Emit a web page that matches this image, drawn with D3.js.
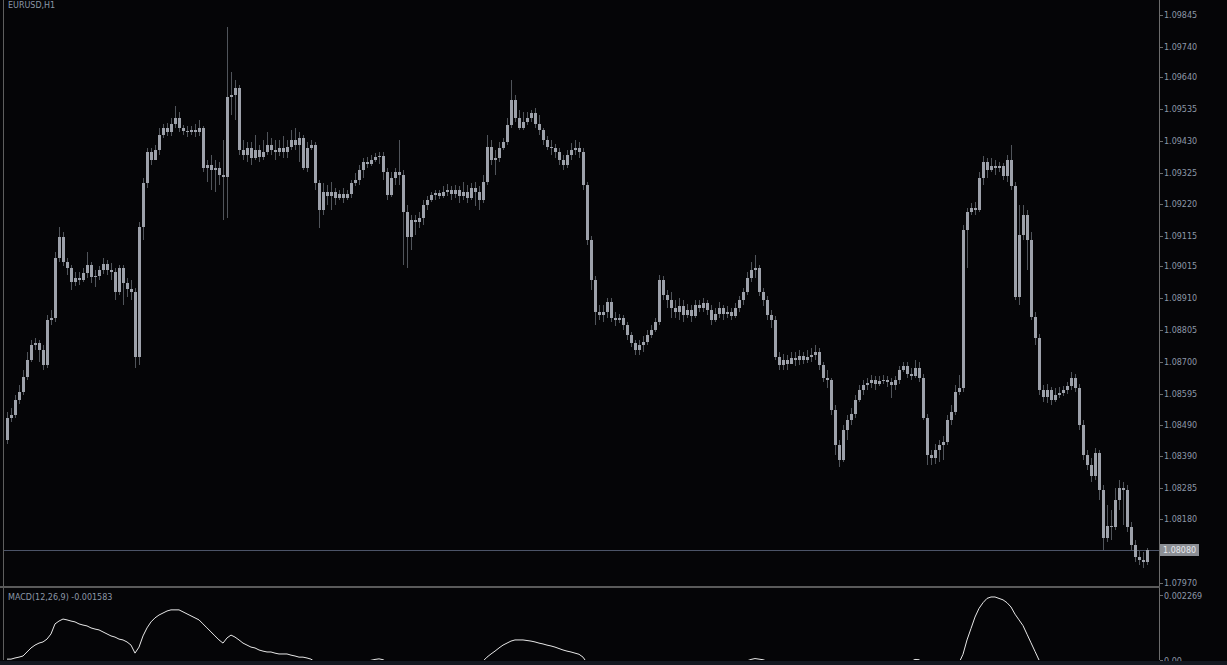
<!DOCTYPE html>
<html><head><meta charset="utf-8">
<script src="https://cdn.jsdelivr.net/npm/d3@7"></script>
<style>html,body{margin:0;padding:0;background:#050507;overflow:hidden}</style>
</head><body>
<script>
const symbolLabel = "EURUSD,H1";
const macdLabel = "MACD(12,26,9) -0.001583";
const priceTicks = [1.09845,1.09740,1.09640,1.09535,1.09430,1.09325,1.09220,1.09115,1.09015,1.08910,1.08805,1.08700,1.08595,1.08490,1.08390,1.08285,1.08180,1.07970];
const macdTicks = [0.002269, 0];
const macdTickLabels = ["0.002269", "0.00"];
const currentPrice = 1.08080;

const closes = [1.08516,1.08525,1.08575,1.08601,1.08651,1.08707,1.08756,1.08763,1.08740,1.08690,
1.08839,1.08846,1.09044,1.09113,1.09030,1.09011,1.08964,1.08978,1.08971,1.08994,
1.09020,1.08981,1.08984,1.09004,1.09024,1.09004,1.08997,1.08931,1.09011,1.08961,
1.08941,1.08931,1.08717,1.09146,1.09291,1.09393,1.09367,1.09400,1.09450,1.09473,
1.09459,1.09486,1.09506,1.09473,1.09463,1.09459,1.09466,1.09459,1.09473,1.09341,
1.09350,1.09334,1.09341,1.09317,1.09311,1.09575,1.09581,1.09605,1.09400,1.09383,
1.09407,1.09374,1.09400,1.09377,1.09393,1.09417,1.09400,1.09393,1.09407,1.09393,
1.09410,1.09433,1.09417,1.09440,1.09341,1.09407,1.09417,1.09291,1.09202,1.09261,
1.09248,1.09261,1.09242,1.09255,1.09242,1.09255,1.09291,1.09301,1.09334,1.09360,
1.09354,1.09367,1.09377,1.09380,1.09327,1.09252,1.09308,1.09327,1.09317,1.09195,
1.09113,1.09169,1.09162,1.09176,1.09218,1.09235,1.09252,1.09258,1.09248,1.09261,
1.09268,1.09255,1.09268,1.09248,1.09261,1.09242,1.09275,1.09261,1.09235,1.09294,
1.09410,1.09367,1.09374,1.09407,1.09426,1.09482,1.09565,1.09506,1.09473,1.09492,
1.09506,1.09522,1.09486,1.09466,1.09433,1.09410,1.09407,1.09393,1.09367,1.09350,
1.09383,1.09400,1.09407,1.09393,1.09284,1.09103,1.08971,1.08865,1.08855,1.08865,
1.08898,1.08846,1.08839,1.08846,1.08822,1.08789,1.08763,1.08740,1.08756,1.08766,
1.08789,1.08806,1.08832,1.08971,1.08921,1.08905,1.08879,1.08865,1.08885,1.08855,
1.08872,1.08852,1.08888,1.08879,1.08895,1.08872,1.08839,1.08859,1.08879,1.08859,
1.08865,1.08852,1.08879,1.08905,1.08931,1.08978,1.09004,1.09011,1.08931,1.08905,
1.08855,1.08839,1.08717,1.08690,1.08707,1.08694,1.08714,1.08707,1.08720,1.08707,
1.08717,1.08723,1.08733,1.08690,1.08648,1.08641,1.08542,1.08426,1.08377,1.08476,
1.08509,1.08529,1.08575,1.08608,1.08624,1.08631,1.08641,1.08628,1.08638,1.08641,
1.08634,1.08624,1.08641,1.08674,1.08687,1.08661,1.08654,1.08681,1.08648,1.08516,
1.08393,1.08384,1.08410,1.08426,1.08436,1.08509,1.08535,1.08601,1.08615,1.09136,
1.09195,1.09209,1.09202,1.09308,1.09360,1.09334,1.09347,1.09341,1.09347,1.09314,
1.09367,1.09281,1.08915,1.09119,1.09185,1.09103,1.08849,1.08780,1.08608,1.08585,
1.08608,1.08575,1.08591,1.08598,1.08608,1.08621,1.08648,1.08615,1.08492,1.08393,
1.08360,1.08324,1.08400,1.08278,1.08119,1.08159,1.08156,1.08245,1.08284,1.08278,
1.08156,1.08096,1.08057,1.08047,1.08040,1.08080];

const opens = [1.08443,1.08516,1.08525,1.08575,1.08601,1.08651,1.08707,1.08756,1.08763,1.08740,
1.08690,1.08839,1.08846,1.09044,1.09113,1.09030,1.09011,1.08964,1.08978,1.08971,
1.08994,1.09020,1.08981,1.08984,1.09004,1.09024,1.09004,1.08997,1.08931,1.09011,
1.08961,1.08941,1.08931,1.08717,1.09146,1.09291,1.09393,1.09367,1.09400,1.09450,
1.09473,1.09459,1.09486,1.09506,1.09473,1.09463,1.09459,1.09466,1.09459,1.09473,
1.09341,1.09350,1.09334,1.09341,1.09317,1.09311,1.09575,1.09581,1.09605,1.09400,
1.09383,1.09407,1.09374,1.09400,1.09377,1.09393,1.09417,1.09400,1.09393,1.09407,
1.09393,1.09410,1.09433,1.09417,1.09440,1.09341,1.09407,1.09417,1.09291,1.09202,
1.09261,1.09248,1.09261,1.09242,1.09255,1.09242,1.09255,1.09291,1.09301,1.09334,
1.09360,1.09354,1.09367,1.09377,1.09380,1.09327,1.09252,1.09308,1.09327,1.09317,
1.09195,1.09113,1.09169,1.09162,1.09176,1.09218,1.09235,1.09252,1.09258,1.09248,
1.09261,1.09268,1.09255,1.09268,1.09248,1.09261,1.09242,1.09275,1.09261,1.09235,
1.09294,1.09410,1.09367,1.09374,1.09407,1.09426,1.09482,1.09565,1.09506,1.09473,
1.09492,1.09506,1.09522,1.09486,1.09466,1.09433,1.09410,1.09407,1.09393,1.09367,
1.09350,1.09383,1.09400,1.09407,1.09393,1.09284,1.09103,1.08971,1.08865,1.08855,
1.08865,1.08898,1.08846,1.08839,1.08846,1.08822,1.08789,1.08763,1.08740,1.08756,
1.08766,1.08789,1.08806,1.08832,1.08971,1.08921,1.08905,1.08879,1.08865,1.08885,
1.08855,1.08872,1.08852,1.08888,1.08879,1.08895,1.08872,1.08839,1.08859,1.08879,
1.08859,1.08865,1.08852,1.08879,1.08905,1.08931,1.08978,1.09004,1.09011,1.08931,
1.08905,1.08855,1.08839,1.08717,1.08690,1.08707,1.08694,1.08714,1.08707,1.08720,
1.08707,1.08717,1.08723,1.08733,1.08690,1.08648,1.08641,1.08542,1.08426,1.08377,
1.08476,1.08509,1.08529,1.08575,1.08608,1.08624,1.08631,1.08641,1.08628,1.08638,
1.08641,1.08634,1.08624,1.08641,1.08674,1.08687,1.08661,1.08654,1.08681,1.08648,
1.08516,1.08393,1.08384,1.08410,1.08426,1.08436,1.08509,1.08535,1.08601,1.08615,
1.09136,1.09195,1.09209,1.09202,1.09308,1.09360,1.09334,1.09347,1.09341,1.09347,
1.09314,1.09367,1.09281,1.08915,1.09119,1.09185,1.09103,1.08849,1.08780,1.08608,
1.08585,1.08608,1.08575,1.08591,1.08598,1.08608,1.08621,1.08648,1.08615,1.08492,
1.08393,1.08360,1.08324,1.08400,1.08278,1.08119,1.08159,1.08156,1.08245,1.08284,
1.08278,1.08156,1.08096,1.08057,1.08047,1.08040];

const highs = [1.08535,1.08549,1.08591,1.08624,1.08674,1.08733,1.08773,1.08780,1.08773,1.08756,
1.08855,1.08872,1.09063,1.09146,1.09129,1.09044,1.09020,1.08997,1.08997,1.09011,
1.09063,1.09030,1.09004,1.09017,1.09044,1.09037,1.09027,1.09011,1.09020,1.09020,
1.08978,1.08971,1.08945,1.09162,1.09308,1.09407,1.09407,1.09417,1.09473,1.09486,
1.09489,1.09506,1.09545,1.09525,1.09482,1.09479,1.09479,1.09486,1.09499,1.09479,
1.09367,1.09383,1.09367,1.09360,1.09433,1.09806,1.09657,1.09631,1.09614,1.09433,
1.09426,1.09426,1.09450,1.09417,1.09433,1.09459,1.09440,1.09433,1.09433,1.09446,
1.09433,1.09466,1.09473,1.09459,1.09450,1.09426,1.09433,1.09426,1.09301,1.09291,
1.09284,1.09294,1.09275,1.09268,1.09275,1.09268,1.09301,1.09324,1.09350,1.09374,
1.09377,1.09383,1.09390,1.09393,1.09393,1.09341,1.09327,1.09341,1.09433,1.09334,
1.09218,1.09185,1.09185,1.09195,1.09235,1.09248,1.09261,1.09268,1.09268,1.09281,
1.09288,1.09281,1.09284,1.09281,1.09294,1.09284,1.09291,1.09294,1.09281,1.09317,
1.09450,1.09433,1.09400,1.09426,1.09440,1.09506,1.09631,1.09581,1.09532,1.09525,
1.09525,1.09532,1.09539,1.09515,1.09473,1.09446,1.09433,1.09420,1.09407,1.09383,
1.09400,1.09423,1.09433,1.09426,1.09407,1.09294,1.09116,1.08984,1.08888,1.08888,
1.08911,1.08911,1.08865,1.08859,1.08855,1.08832,1.08799,1.08773,1.08773,1.08786,
1.08806,1.08822,1.08846,1.08987,1.08984,1.08938,1.08931,1.08905,1.08911,1.08905,
1.08892,1.08888,1.08905,1.08905,1.08911,1.08905,1.08888,1.08879,1.08898,1.08888,
1.08885,1.08879,1.08895,1.08918,1.08945,1.08997,1.09030,1.09053,1.09020,1.08945,
1.08918,1.08872,1.08852,1.08733,1.08727,1.08723,1.08733,1.08733,1.08740,1.08733,
1.08740,1.08746,1.08756,1.08746,1.08700,1.08674,1.08648,1.08558,1.08443,1.08492,
1.08525,1.08549,1.08591,1.08624,1.08641,1.08648,1.08657,1.08654,1.08654,1.08657,
1.08654,1.08648,1.08654,1.08687,1.08700,1.08700,1.08681,1.08707,1.08700,1.08661,
1.08529,1.08410,1.08430,1.08443,1.08456,1.08525,1.08558,1.08624,1.08657,1.09152,
1.09209,1.09225,1.09228,1.09327,1.09380,1.09374,1.09374,1.09367,1.09360,1.09357,
1.09383,1.09417,1.09294,1.09218,1.09218,1.09202,1.09129,1.08865,1.08793,1.08624,
1.08628,1.08618,1.08615,1.08618,1.08621,1.08634,1.08667,1.08661,1.08628,1.08509,
1.08410,1.08384,1.08417,1.08410,1.08294,1.08228,1.08212,1.08284,1.08311,1.08304,
1.08294,1.08172,1.08113,1.08080,1.08073,1.08086];

const lows = [1.08430,1.08502,1.08516,1.08562,1.08591,1.08641,1.08700,1.08740,1.08700,1.08674,
1.08681,1.08822,1.08832,1.09030,1.09017,1.08987,1.08938,1.08951,1.08954,1.08964,
1.08978,1.08961,1.08948,1.08971,1.08991,1.08987,1.08971,1.08905,1.08921,1.08888,
1.08915,1.08905,1.08681,1.08690,1.09103,1.09275,1.09350,1.09374,1.09383,1.09440,
1.09446,1.09446,1.09473,1.09459,1.09450,1.09443,1.09450,1.09443,1.09446,1.09327,
1.09294,1.09268,1.09261,1.09284,1.09169,1.09176,1.09515,1.09499,1.09383,1.09367,
1.09360,1.09350,1.09367,1.09360,1.09367,1.09383,1.09383,1.09367,1.09380,1.09374,
1.09374,1.09400,1.09400,1.09360,1.09334,1.09327,1.09400,1.09268,1.09143,1.09185,
1.09218,1.09202,1.09218,1.09235,1.09225,1.09235,1.09242,1.09281,1.09284,1.09308,
1.09341,1.09347,1.09360,1.09354,1.09301,1.09235,1.09245,1.09284,1.09284,1.09020,
1.09011,1.09070,1.09119,1.09143,1.09152,1.09202,1.09228,1.09235,1.09238,1.09242,
1.09248,1.09235,1.09242,1.09225,1.09235,1.09225,1.09235,1.09215,1.09202,1.09225,
1.09284,1.09350,1.09317,1.09360,1.09400,1.09417,1.09473,1.09492,1.09466,1.09466,
1.09482,1.09492,1.09473,1.09450,1.09417,1.09400,1.09383,1.09374,1.09350,1.09334,
1.09341,1.09367,1.09383,1.09374,1.09268,1.09086,1.08938,1.08822,1.08839,1.08832,
1.08846,1.08832,1.08819,1.08829,1.08806,1.08773,1.08750,1.08723,1.08723,1.08733,
1.08756,1.08780,1.08799,1.08822,1.08905,1.08879,1.08846,1.08846,1.08839,1.08832,
1.08846,1.08832,1.08846,1.08865,1.08865,1.08855,1.08822,1.08832,1.08846,1.08839,
1.08846,1.08839,1.08846,1.08865,1.08888,1.08921,1.08964,1.08978,1.08918,1.08885,
1.08839,1.08812,1.08707,1.08674,1.08674,1.08674,1.08694,1.08687,1.08690,1.08694,
1.08697,1.08700,1.08707,1.08674,1.08634,1.08615,1.08525,1.08393,1.08354,1.08370,
1.08443,1.08492,1.08516,1.08568,1.08591,1.08608,1.08615,1.08608,1.08621,1.08628,
1.08618,1.08582,1.08608,1.08628,1.08667,1.08648,1.08641,1.08648,1.08634,1.08509,
1.08360,1.08360,1.08364,1.08370,1.08377,1.08426,1.08492,1.08525,1.08591,1.08601,
1.09011,1.09185,1.09185,1.09195,1.09284,1.09308,1.09327,1.09317,1.09327,1.09301,
1.09294,1.09268,1.08905,1.08888,1.09103,1.09004,1.08839,1.08756,1.08591,1.08568,
1.08565,1.08558,1.08568,1.08582,1.08588,1.08594,1.08608,1.08601,1.08476,1.08377,
1.08344,1.08304,1.08311,1.08245,1.08080,1.08106,1.08113,1.08146,1.08212,1.08162,
1.08139,1.08080,1.08040,1.08030,1.08021,1.08030];

const macd = [0.00003,0.00003,0.00007,0.00010,0.00014,0.00028,0.00042,0.00052,0.00059,0.00063,
0.00073,0.00091,0.00126,0.00136,0.00143,0.00140,0.00136,0.00133,0.00126,0.00122,
0.00119,0.00112,0.00108,0.00105,0.00098,0.00091,0.00084,0.00080,0.00073,0.00070,
0.00063,0.00052,0.00024,0.00045,0.00084,0.00112,0.00133,0.00147,0.00157,0.00164,
0.00171,0.00175,0.00175,0.00175,0.00168,0.00161,0.00154,0.00147,0.00140,0.00126,
0.00112,0.00098,0.00084,0.00070,0.00059,0.00077,0.00087,0.00080,0.00070,0.00059,
0.00052,0.00045,0.00042,0.00035,0.00031,0.00028,0.00028,0.00024,0.00021,0.00021,
0.00021,0.00017,0.00014,0.00010,0.00010,0.00007,0.00003,-0.00007,-0.00020,-0.00028,
-0.00034,-0.00038,-0.00040,-0.00041,-0.00040,-0.00036,-0.00030,-0.00024,-0.00017,-0.00010,
-0.00005,-0.00001,0.00002,0.00004,0.00001,-0.00006,-0.00009,-0.00010,-0.00012,-0.00022,
-0.00034,-0.00040,-0.00045,-0.00048,-0.00047,-0.00045,-0.00042,-0.00039,-0.00036,-0.00033,
-0.00030,-0.00027,-0.00024,-0.00022,-0.00019,-0.00017,-0.00014,-0.00012,-0.00011,-0.00004,
0.00010,0.00021,0.00031,0.00042,0.00052,0.00059,0.00066,0.00070,0.00070,0.00070,
0.00068,0.00066,0.00063,0.00059,0.00056,0.00052,0.00049,0.00045,0.00040,0.00035,
0.00031,0.00028,0.00024,0.00020,0.00010,-0.00010,-0.00035,-0.00060,-0.00080,-0.00095,
-0.00105,-0.00115,-0.00122,-0.00128,-0.00133,-0.00138,-0.00142,-0.00146,-0.00147,-0.00146,
-0.00143,-0.00138,-0.00132,-0.00115,-0.00105,-0.00097,-0.00090,-0.00084,-0.00077,-0.00072,
-0.00066,-0.00061,-0.00055,-0.00050,-0.00045,-0.00041,-0.00039,-0.00036,-0.00032,-0.00030,
-0.00027,-0.00025,-0.00021,-0.00016,-0.00010,-0.00003,0.00002,0.00005,0.00003,0.00001,
-0.00004,-0.00008,-0.00020,-0.00030,-0.00038,-0.00045,-0.00050,-0.00054,-0.00057,-0.00059,
-0.00060,-0.00060,-0.00059,-0.00061,-0.00066,-0.00070,-0.00080,-0.00095,-0.00110,-0.00115,
-0.00116,-0.00115,-0.00110,-0.00103,-0.00095,-0.00087,-0.00079,-0.00072,-0.00064,-0.00057,
-0.00050,-0.00044,-0.00037,-0.00028,-0.00019,-0.00012,-0.00005,0.00002,0.00001,-0.00010,
-0.00030,-0.00045,-0.00055,-0.00060,-0.00062,-0.00058,-0.00050,-0.00040,-0.00010,0.00020,
0.00070,0.00110,0.00150,0.00180,0.00200,0.00215,0.00220,0.00220,0.00215,0.00210,
0.00200,0.00185,0.00160,0.00140,0.00120,0.00090,0.00060,0.00030,0.00000,-0.00030,
-0.00060,-0.00085,-0.00100,-0.00110,-0.00115,-0.00120,-0.00130,-0.00145,-0.00158,-0.00170,
-0.00172,-0.00180,-0.00195,-0.00200,-0.00200,-0.00190,-0.00178,-0.00170,-0.00172,-0.00175,
-0.00170,-0.00165,-0.00162,-0.00160,-0.00159,-0.001583];

const W = 1227, H = 665;
const N = closes.length;
const FONT = "'DejaVu Sans', Verdana, sans-serif";
const TEXT = "#8d98a8";

const svg = d3.select("body").append("svg")
  .attr("width", W).attr("height", H)
  .style("display", "block")
  .attr("font-family", FONT).attr("font-size", 8);

svg.append("rect").attr("width", W).attr("height", H).attr("fill", "#050507");

const x = d3.scaleLinear().domain([0, N - 1]).range([7, 1147]);
const y = d3.scaleLinear().domain([1.07970, 1.09845]).range([583, 15]);
const ym = d3.scaleLinear().domain([0, 0.002269]).range([660, 595]);

const defs = svg.append("defs");
defs.append("clipPath").attr("id", "mainClip").append("rect").attr("x", 4).attr("y", 0).attr("width", 1155).attr("height", 585);
defs.append("clipPath").attr("id", "macdClip").append("rect").attr("x", 4).attr("y", 589).attr("width", 1155).attr("height", 71);

// current price line
svg.append("line")
  .attr("x1", 4).attr("x2", 1159)
  .attr("y1", Math.round(y(currentPrice)) + 0.5).attr("y2", Math.round(y(currentPrice)) + 0.5)
  .attr("stroke", "#4c5468").attr("stroke-width", 1);

const bars = d3.range(N).map(i => ({i, o: opens[i], h: highs[i], l: lows[i], c: closes[i]}));
const gMain = svg.append("g").attr("clip-path", "url(#mainClip)").attr("shape-rendering", "crispEdges");

gMain.selectAll("line.wick").data(bars).join("line")
  .attr("class", "wick")
  .attr("x1", d => Math.round(x(d.i)) + 0.5).attr("x2", d => Math.round(x(d.i)) + 0.5)
  .attr("y1", d => y(d.h)).attr("y2", d => y(d.l))
  .attr("stroke", "#50545a").attr("stroke-width", 1);

gMain.selectAll("rect.body").data(bars).join("rect")
  .attr("class", "body")
  .attr("x", d => Math.round(x(d.i)) - 1)
  .attr("width", 3)
  .attr("y", d => y(Math.max(d.o, d.c)))
  .attr("height", d => Math.max(1, Math.abs(y(d.o) - y(d.c))))
  .attr("fill", "#9da1aa");

// MACD line
const gMacd = svg.append("g").attr("clip-path", "url(#macdClip)");
gMacd.append("path")
  .datum(macd)
  .attr("d", d3.line().x((d, i) => x(i)).y(d => ym(d)))
  .attr("fill", "none").attr("stroke", "#e8e8e8").attr("stroke-width", 1);

// frame lines
svg.append("line").attr("x1", 3.5).attr("x2", 3.5).attr("y1", 0).attr("y2", 660).attr("stroke", "#5e5e5e");
svg.append("line").attr("x1", 1159.5).attr("x2", 1159.5).attr("y1", 0).attr("y2", 660).attr("stroke", "#6c6c6c");
svg.append("rect").attr("x", 0).attr("y", 586).attr("width", 1160).attr("height", 2).attr("fill", "#5a5a5a");

// price axis
const axisG = svg.append("g");
priceTicks.forEach(t => {
  const yy = Math.round(y(t));
  axisG.append("line").attr("x1", 1160).attr("x2", 1163).attr("y1", yy + 0.5).attr("y2", yy + 0.5).attr("stroke", "#6c6c6c");
  axisG.append("text").attr("x", 1164).attr("y", yy + 3).attr("fill", TEXT).text(t.toFixed(5));
});

// current price box
const cpy = Math.round(y(currentPrice));
axisG.append("rect").attr("x", 1160).attr("y", cpy - 6).attr("width", 39).attr("height", 12).attr("fill", "#8b8e94");
axisG.append("text").attr("x", 1163).attr("y", cpy + 3).attr("fill", "#e6e8ec").text(currentPrice.toFixed(5));

// macd axis
macdTicks.forEach((t, k) => {
  const yy = Math.round(ym(t));
  axisG.append("line").attr("x1", 1160).attr("x2", 1163).attr("y1", yy + 0.5).attr("y2", yy + 0.5).attr("stroke", "#6c6c6c");
  axisG.append("text").attr("x", 1164).attr("y", yy + 4).attr("fill", TEXT).text(macdTickLabels[k]);
});

// bottom status band (drawn over the partly hidden zero label)
svg.append("rect").attr("x", 0).attr("y", 661).attr("width", W).attr("height", 4).attr("fill", "#141820");

// labels
svg.append("text").attr("x", 8).attr("y", 8).attr("fill", TEXT).text(symbolLabel);
svg.append("text").attr("x", 8).attr("y", 600).attr("fill", TEXT).text(macdLabel);
</script>
</body></html>
